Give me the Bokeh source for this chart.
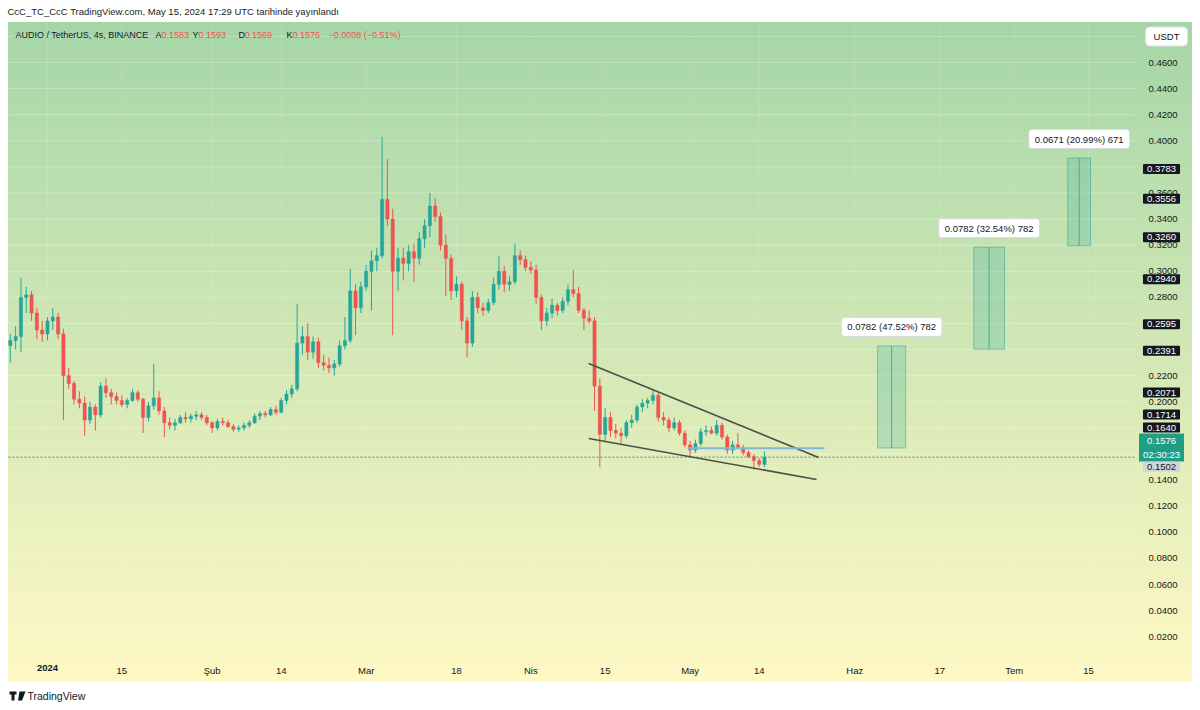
from bokeh.plotting import figure
from bokeh.models import (Range1d, LinearAxis, FixedTicker, Label, Grid,
                          NumeralTickFormatter, ColumnDataSource, PolyAnnotation)
from bokeh.embed import file_html
from bokeh.resources import INLINE

# ---------------- data (daily view of AUDIO/USDT, day 0 = 2024-01-01) ----------------
days = list(range(-7, 136))
opens = [0.243, 0.247, 0.250, 0.280, 0.282, 0.268, 0.255,
         0.252, 0.262, 0.265, 0.252, 0.220, 0.214, 0.202, 0.199, 0.186, 0.196,
         0.190, 0.212, 0.207, 0.204, 0.201, 0.198, 0.201, 0.207, 0.202, 0.188,
         0.197, 0.203, 0.193, 0.184, 0.182, 0.184, 0.188, 0.187, 0.189, 0.190,
         0.188, 0.184, 0.180, 0.185, 0.184, 0.181, 0.179, 0.180, 0.182, 0.184,
         0.189, 0.191, 0.190, 0.194, 0.192, 0.201, 0.206, 0.210, 0.245, 0.250,
         0.238, 0.246, 0.230, 0.228, 0.226, 0.229, 0.243, 0.247, 0.285, 0.272,
         0.288, 0.300, 0.308, 0.312, 0.355, 0.340, 0.300, 0.310, 0.306, 0.315,
         0.310, 0.325, 0.335, 0.350, 0.342, 0.320, 0.310, 0.285, 0.290, 0.262,
         0.245, 0.280, 0.272, 0.270, 0.276, 0.290, 0.300, 0.290, 0.292, 0.312,
         0.309, 0.303, 0.301, 0.280, 0.262, 0.268, 0.274, 0.270, 0.277, 0.286,
         0.283, 0.270, 0.264, 0.262, 0.212, 0.175, 0.188, 0.178, 0.176, 0.174,
         0.184, 0.186, 0.196, 0.199, 0.201, 0.205, 0.188, 0.186, 0.180, 0.184,
         0.176, 0.167, 0.163, 0.168, 0.177, 0.178, 0.176, 0.182, 0.173, 0.163,
         0.167, 0.165, 0.161, 0.158, 0.155, 0.152]
highs = [0.252, 0.258, 0.295, 0.288, 0.285, 0.272, 0.262,
         0.265, 0.272, 0.268, 0.256, 0.226, 0.216, 0.208, 0.204, 0.200, 0.198,
         0.215, 0.218, 0.210, 0.207, 0.205, 0.203, 0.210, 0.209, 0.203, 0.200,
         0.229, 0.208, 0.196, 0.188, 0.187, 0.190, 0.192, 0.191, 0.193, 0.192,
         0.190, 0.185, 0.187, 0.188, 0.186, 0.183, 0.182, 0.184, 0.186, 0.191,
         0.193, 0.193, 0.196, 0.197, 0.203, 0.209, 0.213, 0.275, 0.258, 0.260,
         0.250, 0.249, 0.236, 0.234, 0.232, 0.247, 0.265, 0.302, 0.290, 0.292,
         0.305, 0.316, 0.318, 0.403, 0.386, 0.348, 0.318, 0.318, 0.320, 0.321,
         0.330, 0.340, 0.360, 0.356, 0.345, 0.328, 0.313, 0.296, 0.292, 0.265,
         0.285, 0.284, 0.276, 0.279, 0.295, 0.312, 0.304, 0.296, 0.321, 0.316,
         0.312, 0.308, 0.305, 0.282, 0.272, 0.279, 0.276, 0.280, 0.290, 0.301,
         0.288, 0.272, 0.270, 0.265, 0.218, 0.195, 0.192, 0.183, 0.180, 0.186,
         0.190, 0.198, 0.202, 0.203, 0.209, 0.207, 0.192, 0.188, 0.188, 0.186,
         0.178, 0.170, 0.171, 0.180, 0.182, 0.181, 0.186, 0.184, 0.175, 0.170,
         0.176, 0.167, 0.163, 0.160, 0.157, 0.162]
lows = [0.230, 0.240, 0.238, 0.268, 0.262, 0.248, 0.246,
        0.247, 0.255, 0.248, 0.186, 0.210, 0.198, 0.195, 0.174, 0.183, 0.178,
        0.188, 0.203, 0.198, 0.198, 0.196, 0.195, 0.200, 0.200, 0.176, 0.185,
        0.194, 0.190, 0.173, 0.179, 0.178, 0.183, 0.184, 0.184, 0.186, 0.186,
        0.182, 0.176, 0.178, 0.182, 0.180, 0.177, 0.177, 0.178, 0.180, 0.183,
        0.186, 0.188, 0.189, 0.190, 0.191, 0.198, 0.203, 0.208, 0.236, 0.232,
        0.233, 0.226, 0.224, 0.222, 0.220, 0.227, 0.240, 0.245, 0.251, 0.268,
        0.285, 0.270, 0.300, 0.310, 0.335, 0.251, 0.285, 0.293, 0.300, 0.292,
        0.305, 0.318, 0.326, 0.338, 0.316, 0.281, 0.278, 0.280, 0.255, 0.234,
        0.242, 0.268, 0.266, 0.268, 0.274, 0.286, 0.284, 0.285, 0.290, 0.305,
        0.300, 0.298, 0.275, 0.255, 0.258, 0.264, 0.266, 0.268, 0.274, 0.280,
        0.268, 0.255, 0.260, 0.193, 0.150, 0.170, 0.173, 0.172, 0.168, 0.172,
        0.180, 0.184, 0.192, 0.195, 0.198, 0.185, 0.182, 0.177, 0.178, 0.174,
        0.165, 0.157, 0.161, 0.166, 0.174, 0.175, 0.174, 0.171, 0.160, 0.160,
        0.164, 0.159, 0.157, 0.148, 0.150, 0.150]
closes = [0.247, 0.250, 0.280, 0.282, 0.268, 0.255, 0.252,
          0.262, 0.265, 0.252, 0.220, 0.214, 0.202, 0.199, 0.186, 0.196, 0.190,
          0.212, 0.207, 0.204, 0.201, 0.198, 0.201, 0.207, 0.202, 0.188, 0.197,
          0.203, 0.193, 0.184, 0.182, 0.184, 0.188, 0.187, 0.189, 0.190, 0.188,
          0.184, 0.180, 0.185, 0.184, 0.181, 0.179, 0.180, 0.182, 0.184, 0.189,
          0.191, 0.190, 0.194, 0.192, 0.201, 0.206, 0.210, 0.245, 0.250, 0.238,
          0.246, 0.230, 0.228, 0.226, 0.229, 0.243, 0.247, 0.285, 0.272, 0.288,
          0.300, 0.308, 0.312, 0.355, 0.340, 0.300, 0.310, 0.306, 0.315, 0.310,
          0.325, 0.335, 0.350, 0.342, 0.320, 0.310, 0.285, 0.290, 0.262, 0.245,
          0.280, 0.272, 0.270, 0.276, 0.290, 0.300, 0.290, 0.292, 0.312, 0.309,
          0.303, 0.301, 0.280, 0.262, 0.268, 0.274, 0.270, 0.277, 0.286, 0.283,
          0.270, 0.264, 0.262, 0.212, 0.175, 0.188, 0.178, 0.176, 0.174, 0.184,
          0.186, 0.196, 0.199, 0.201, 0.205, 0.188, 0.186, 0.180, 0.184, 0.176,
          0.167, 0.163, 0.168, 0.177, 0.178, 0.176, 0.182, 0.173, 0.163, 0.167,
          0.165, 0.161, 0.158, 0.155, 0.152, 0.1576]

# price-range drawings (start day, end day, base price, change)
range_start_day = [156.3, 174.4, 192.1]
range_end_day = [161.6, 180.2, 196.4]
range_base = [0.1646, 0.2403, 0.3197]
range_change = [0.0782, 0.0782, 0.0671]
range_text = ["0.0782 (47.52%) 782", "0.0782 (32.54%) 782", "0.0671 (20.99%) 671"]

# falling wedge trend lines and breakout level
upper_trend_day = [101.9, 145.2]
upper_trend_price = [0.2293, 0.1573]
lower_trend_day = [101.9, 144.8]
lower_trend_price = [0.1719, 0.1405]
level_day = [120.5, 146.3]
level_price = [0.1644, 0.1644]

# price scale marks
mark_prices = [0.3783, 0.3556, 0.3260, 0.2940, 0.2595, 0.2391, 0.2071, 0.1714, 0.1640]
last_price = 0.1576
countdown = "02:30:23"
low_mark = 0.1502
ohlc_last = [0.1583, 0.1593, 0.1569, 0.1576]
change_text = "\u22120.0008 (\u22120.51%)"

ytick_values = [0.02, 0.04, 0.06, 0.08, 0.10, 0.12, 0.14, 0.16, 0.18, 0.20, 0.22, 0.24,
                0.26, 0.28, 0.30, 0.32, 0.34, 0.36, 0.38, 0.40, 0.42, 0.44, 0.46]
grid_prices = ytick_values + [0.48]
xtick_days = [0, 14, 31, 44, 60, 77, 91, 105, 121, 134, 152, 168, 182, 196]
xtick_labels = ["2024", "15", "Şub", "14", "Mar", "18", "Nis", "15", "May", "14",
                "Haz", "17", "Tem", "15"]

# ---------------- layout helpers (page pixel -> data) ----------------
def dx(px):
    return (px - 47) / 5.311

def py(px):
    return 0.46 - (px - 62) / 1305.0

W, H = 1200, 710
FONT = "Liberation Sans"
DARK = "#131722"
UP = "#26a69a"
DOWN = "#ef5350"
PANE_L, PANE_R, PANE_T, PANE_B = 8, 1135, 22, 656

p = figure(width=W, height=H, x_range=Range1d(dx(0), dx(W - 8)),
           y_range=Range1d(py(H - 2), py(0)), output_backend="svg",
           toolbar_location=None, tools="", title=None,
           x_axis_location=None, y_axis_location=None,
           min_border_left=0, min_border_right=8, min_border_top=0, min_border_bottom=2)
p.center = [r for r in p.center if not isinstance(r, Grid)]
p.background_fill_color = None
p.border_fill_color = None
p.outline_line_color = None
p.styles = {"background": "linear-gradient(to bottom, #a5d6a7, #fff9c4) 8px 22px / 1184px 660px no-repeat"}

# grid lines, limited to the price pane
p.segment(x0=[dx(PANE_L)] * len(grid_prices), y0=grid_prices,
          x1=[dx(PANE_R)] * len(grid_prices), y1=grid_prices,
          line_color="white", line_alpha=0.28, line_width=1)
p.segment(x0=xtick_days, y0=[py(PANE_T)] * len(xtick_days),
          x1=xtick_days, y1=[py(PANE_B)] * len(xtick_days),
          line_color="white", line_alpha=0.12, line_width=1)

# axes (labels pulled back inside the widget)
yaxis = LinearAxis(ticker=FixedTicker(ticks=ytick_values),
                   formatter=NumeralTickFormatter(format="0.0000"),
                   axis_line_color=None, major_tick_line_color=None, minor_tick_line_color=None,
                   major_tick_out=0, major_tick_in=0,
                   major_label_standoff=-44, major_label_text_font_size="9.5px",
                   major_label_text_color=DARK, major_label_text_font=FONT)
p.add_layout(yaxis, "right")
overrides = {d: t for d, t in zip(xtick_days, xtick_labels)}
overrides[0] = ""
xaxis = LinearAxis(ticker=FixedTicker(ticks=xtick_days), major_label_overrides=overrides,
                   axis_line_color=None, major_tick_line_color=None, minor_tick_line_color=None,
                   major_tick_out=0, major_tick_in=0,
                   major_label_standoff=-44, major_label_text_font_size="9.5px",
                   major_label_text_color=DARK, major_label_text_font=FONT)
p.add_layout(xaxis, "below")
p.add_layout(Label(x=0, y=py(664), text="2024", text_align="center", text_baseline="top",
                   text_font=FONT, text_font_size="9.5px", text_font_style="bold", text_color=DARK))

# candles
src = ColumnDataSource(dict(
    day=days, o=opens, h=highs, l=lows, c=closes,
    top=[max(a, b) for a, b in zip(opens, closes)],
    bottom=[min(a, b) for a, b in zip(opens, closes)],
    color=[UP if c >= o else DOWN for o, c in zip(opens, closes)]))
p.segment(x0="day", y0="l", x1="day", y1="h", line_color="color", line_width=1, source=src)
p.vbar(x="day", width=0.6, top="top", bottom="bottom", fill_color="color",
       line_color="color", line_width=0.5, source=src)

# last price dotted line
p.segment(x0=[dx(PANE_L)], y0=[last_price], x1=[dx(PANE_R)], y1=[last_price],
          line_color="#5f8f70", line_dash="2 2", line_width=1)

# trend lines
p.line(upper_trend_day, upper_trend_price, line_color="#4a4f4a", line_width=1.6)
p.line(lower_trend_day, lower_trend_price, line_color="#4a4f4a", line_width=1.6)
p.line(level_day, level_price, line_color="#7fb8dc", line_width=2)

# price range boxes
tops = [b + c for b, c in zip(range_base, range_change)]
centers = [(a + b) / 2 for a, b in zip(range_start_day, range_end_day)]
p.quad(left=range_start_day, right=range_end_day, bottom=range_base, top=tops,
       fill_color=UP, fill_alpha=0.22, line_color=UP, line_alpha=0.5, line_width=1)
p.segment(x0=centers, y0=range_base, x1=centers, y1=tops, line_color=UP, line_alpha=0.8, line_width=1)
for cx, t, txt in zip(centers, tops, range_text):
    p.add_layout(Label(x=cx, y=t, y_offset=19, text=txt, text_align="center", text_baseline="middle",
                       text_font=FONT, text_font_size="9.5px", text_color=DARK,
                       background_fill_color="white", border_line_color="#d6d9df",
                       padding=dict(left=6, right=6, top=4, bottom=4), border_radius=3))

# header texts
p.add_layout(Label(x=dx(7), y=py(11), text="CcC_TC_CcC TradingView.com, May 15, 2024 17:29 UTC tarihinde yayınlandı",
                   text_align="left", text_baseline="middle", text_font=FONT,
                   text_font_size="9.5px", text_color="#222222"))
sym_y = py(34)
pieces = [("AUDIO / TetherUS, 4s, BINANCE", 15, DARK),
          ("A", 155, DARK), (f"{ohlc_last[0]:.4f}", 161, DOWN),
          ("Y", 192, DARK), (f"{ohlc_last[1]:.4f}", 198, DOWN),
          ("D", 238, DARK), (f"{ohlc_last[2]:.4f}", 244, DOWN),
          ("K", 286, DARK), (f"{ohlc_last[3]:.4f}", 292, DOWN),
          (change_text, 328, DOWN)]
for txt, xp, col in pieces:
    p.add_layout(Label(x=dx(xp), y=sym_y, text=txt, text_align="left", text_baseline="middle",
                       text_font=FONT, text_font_size="9px", text_color=col))

p.add_layout(Label(x=dx(1166), y=py(36), text="USDT", text_align="center", text_baseline="middle",
                   text_font=FONT, text_font_size="9.5px", text_color=DARK,
                   background_fill_color="white", border_line_color="#dfe2e8",
                   padding=dict(left=8, right=8, top=4, bottom=4), border_radius=4))

# price scale marks
mark_display_px = {0.1714: 414, 0.1640: 427}
for mp in mark_prices:
    yy = py(mark_display_px[mp]) if mp in mark_display_px else mp
    p.add_layout(Label(x=dx(1161), y=yy, text=f"{mp:.4f}", text_align="center", text_baseline="middle",
                       text_font=FONT, text_font_size="9.5px", text_color="white",
                       background_fill_color=DARK, padding=dict(left=4, right=4, top=2, bottom=2),
                       border_radius=1))
p.add_layout(Label(x=dx(1161), y=py(447), text=f"{last_price:.4f}\n{countdown}", text_align="center",
                   text_baseline="middle", text_font=FONT, text_font_size="9.5px", text_color="white",
                   background_fill_color="#1e9e85", padding=dict(left=4, right=4, top=2, bottom=2)))
p.add_layout(Label(x=dx(1161), y=low_mark, text=f"{low_mark:.4f}", text_align="center",
                   text_baseline="middle", text_font=FONT, text_font_size="9.5px", text_color=DARK,
                   background_fill_color="#d1d4dc", padding=dict(left=4, right=4, top=2, bottom=2)))

# footer
p.add_layout(PolyAnnotation(xs=[dx(9), dx(16), dx(16), dx(14), dx(14), dx(11), dx(11), dx(9)],
                            ys=[py(691), py(691), py(694), py(694), py(700), py(700), py(694), py(694)],
                            fill_color=DARK, fill_alpha=1, line_color=None))
p.add_layout(PolyAnnotation(xs=[dx(19), dx(25), dx(21.5), dx(17.5)],
                            ys=[py(691), py(691), py(700), py(700)],
                            fill_color=DARK, fill_alpha=1, line_color=None))
p.add_layout(Label(x=dx(27), y=py(695.5), text="TradingView", text_align="left", text_baseline="middle",
                   text_font=FONT, text_font_size="10.5px", text_color=DARK))

open("out.html", "w").write(file_html(p, INLINE))
